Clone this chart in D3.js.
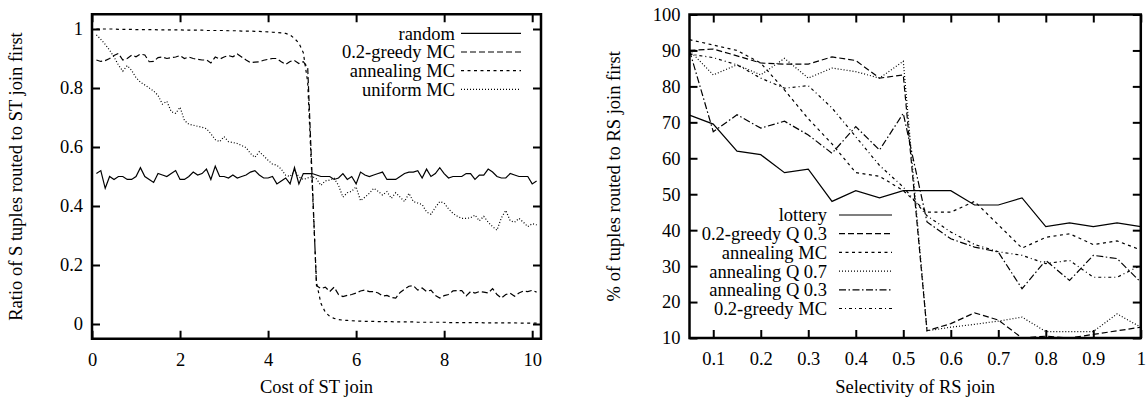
<!DOCTYPE html>
<html>
<head>
<meta charset="utf-8">
<script src="https://cdn.jsdelivr.net/npm/d3@7"></script>
<style>
  body { margin: 0; background: #fff; }
  text { font-family: "Liberation Serif", "Times New Roman", serif; font-size: 18.5px; fill: #000; }
</style>
</head>
<body>
<script>
//  Left panel: cost of ST join (0.1 .. 10.1)
var stCost = [
    0.1,0.2,0.3,0.4,0.5,0.6,0.7,0.8,0.9,1.0,
    1.1,1.2,1.3,1.4,1.5,1.6,1.7,1.8,1.9,2.0,
    2.1,2.2,2.3,2.4,2.5,2.6,2.7,2.8,2.9,3.0,
    3.1,3.2,3.3,3.4,3.5,3.6,3.7,3.8,3.9,4.0,
    4.1,4.2,4.3,4.4,4.5,4.6,4.7,4.8,4.9,5.0,
    5.1,5.2,5.3,5.4,5.5,5.6,5.7,5.8,5.9,6.0,
    6.1,6.2,6.3,6.4,6.5,6.6,6.7,6.8,6.9,7.0,
    7.1,7.2,7.3,7.4,7.5,7.6,7.7,7.8,7.9,8.0,
    8.1,8.2,8.3,8.4,8.5,8.6,8.7,8.8,8.9,9.0,
    9.1,9.2,9.3,9.4,9.5,9.6,9.7,9.8,9.9,10.0,
    10.1];

var randomRatio = [
    0.51,0.52,0.46,0.50,0.49,0.50,0.50,0.49,0.49,0.50,
    0.53,0.50,0.49,0.48,0.51,0.505,0.50,0.51,0.52,0.49,
    0.49,0.50,0.515,0.505,0.51,0.525,0.49,0.535,0.50,0.50,
    0.495,0.505,0.495,0.50,0.505,0.515,0.52,0.505,0.495,0.495,
    0.50,0.475,0.485,0.495,0.475,0.53,0.475,0.51,0.51,0.51,
    0.505,0.50,0.50,0.50,0.49,0.495,0.51,0.49,0.50,0.475,
    0.515,0.505,0.50,0.505,0.51,0.515,0.49,0.49,0.49,0.50,
    0.51,0.515,0.515,0.52,0.495,0.525,0.50,0.51,0.53,0.51,
    0.495,0.50,0.50,0.50,0.51,0.51,0.49,0.505,0.505,0.525,
    0.515,0.50,0.495,0.495,0.51,0.505,0.50,0.50,0.50,0.475,
    0.485];

var greedyMCRatio = [
    0.895,0.89,0.893,0.90,0.91,0.917,0.895,0.90,0.911,0.906,
    0.915,0.912,0.889,0.89,0.903,0.905,0.90,0.903,0.905,0.91,
    0.90,0.905,0.90,0.897,0.895,0.895,0.885,0.905,0.898,0.905,
    0.91,0.906,0.915,0.905,0.895,0.886,0.888,0.889,0.894,0.897,
    0.90,0.90,0.889,0.88,0.89,0.893,0.883,0.889,0.87,0.50,
    0.13,0.12,0.125,0.11,0.125,0.10,0.093,0.097,0.10,0.105,
    0.112,0.115,0.11,0.11,0.105,0.095,0.097,0.09,0.088,0.107,
    0.118,0.128,0.13,0.115,0.122,0.11,0.115,0.097,0.088,0.096,
    0.10,0.112,0.113,0.113,0.095,0.11,0.105,0.11,0.108,0.105,
    0.12,0.10,0.088,0.10,0.104,0.094,0.105,0.112,0.11,0.114,
    0.108];

var annealingMCRatio = [
    1.0,1.0,1.0,1.0,1.0,0.999,0.999,0.999,0.999,0.998,
    0.998,0.998,0.998,0.998,0.997,0.997,0.997,0.997,0.997,0.997,
    0.996,0.996,0.996,0.996,0.996,0.995,0.995,0.995,0.995,0.995,
    0.994,0.994,0.994,0.993,0.993,0.993,0.992,0.992,0.991,0.99,
    0.989,0.988,0.987,0.985,0.98,0.968,0.952,0.92,0.82,0.48,
    0.14,0.07,0.04,0.026,0.019,0.015,0.013,0.012,0.011,0.01,
    0.01,0.009,0.009,0.009,0.008,0.008,0.008,0.008,0.007,0.007,
    0.007,0.007,0.007,0.006,0.006,0.006,0.006,0.006,0.006,0.006,
    0.005,0.005,0.005,0.005,0.005,0.005,0.005,0.005,0.004,0.004,
    0.004,0.004,0.004,0.004,0.004,0.004,0.003,0.003,0.003,0.003,
    0.003];

var uniformMCRatio = [
    0.98,0.965,0.948,0.928,0.905,0.878,0.857,0.876,0.86,0.835,
    0.82,0.81,0.80,0.79,0.775,0.745,0.755,0.72,0.714,0.735,
    0.69,0.677,0.674,0.67,0.667,0.662,0.645,0.625,0.618,0.635,
    0.618,0.615,0.612,0.605,0.598,0.578,0.565,0.584,0.57,0.555,
    0.542,0.538,0.525,0.504,0.50,0.52,0.499,0.49,0.495,0.50,
    0.492,0.47,0.485,0.488,0.494,0.47,0.43,0.445,0.45,0.465,
    0.418,0.43,0.443,0.46,0.45,0.437,0.449,0.426,0.445,0.43,
    0.415,0.443,0.415,0.41,0.405,0.38,0.372,0.395,0.415,0.41,
    0.39,0.375,0.365,0.358,0.358,0.36,0.369,0.35,0.365,0.345,
    0.33,0.318,0.36,0.385,0.35,0.345,0.358,0.345,0.33,0.34,
    0.336];

//  Right panel: selectivity of RS join
var rsSel = [0.05,0.1,0.15,0.2,0.25,0.3,0.35,0.4,0.45,0.5,
             0.55,0.6,0.65,0.7,0.75,0.8,0.85,0.9,0.95,1.0];

var lotteryPct     = [72,69.5,62,61,56,57,48,51,49,51, 51,51,47,47,49,41,42,41,42,41];
var greedyQ03Pct   = [90,90.4,88.5,86.5,86.2,86.2,88.2,87.2,82.3,83.2, 12,14,17,15,10,10.5,10,11,12,13];
var annealingMCPct = [93,91.5,90,86.5,79,71,64,56,55,51, 45,45,48,41.5,35,38,39,36,37,34.5];
var annealingQ07Pct = [90,83.2,86,83.2,87.8,82.3,85.1,84.1,82.3,87, 12,13,13.8,14.7,15.8,11.8,11.8,11.8,16.7,13];
var annealingQ03Pct = [90,67.4,72.1,68.4,70.3,66.5,61.4,68.8,62.3,72.5, 42.3,37.6,35.3,33.9,23.7,31.6,26,33,32.1,25.5];
var greedyMCPct    = [89,88,86,82.3,79.5,80.2,74,66,58,52, 44,39.5,36,34,33,30.7,31.6,26.9,26.9,30.2];

//  Tick values
var stTicks = [0,2,4,6,8,10];
var ratioTicks = [0,0.2,0.4,0.6,0.8,1];
var selTicks = [0.1,0.2,0.3,0.4,0.5,0.6,0.7,0.8,0.9,1];
var pctTicks = [10,20,30,40,50,60,70,80,90,100];

//  Dash styles (gnuplot-like line types)
var dashes = {
    solid: null,
    dashed: "6,3",
    shortdash: "3,3.5",
    dotted: "1,2",
    dashdot: "7,2.5,1.5,2.5",
    dashdotshort: "3,3,1,3"
};

var w = 1147;
var h = 401;

var svg = d3.select("body")
    .append("svg")
    .attr("width", w)
    .attr("height", h);

function drawPanel(p) {
    var x = d3.scaleLinear().domain(p.xDomain).range(p.xRange);
    var y = d3.scaleLinear().domain(p.yDomain).range(p.yRange);
    var g = svg.append("g");

    //  clip lines to the frame
    g.append("clipPath")
        .attr("id", p.id)
        .append("rect")
        .attr("x", p.xRange[0])
        .attr("y", p.yRange[1])
        .attr("width", p.xRange[1] - p.xRange[0])
        .attr("height", p.yRange[0] - p.yRange[1]);

    var line = d3.line()
        .x(function(d) { return x(d[0]); })
        .y(function(d) { return y(d[1]); });

    var lines = g.append("g").attr("clip-path", "url(#" + p.id + ")");
    p.series.forEach(function(s) {
        lines.append("path")
            .datum(p.xs.map(function(v, i) { return [v, s.values[i]]; }))
            .attr("d", line)
            .attr("fill", "none")
            .attr("stroke", "#000")
            .attr("stroke-width", 1.2)
            .attr("stroke-dasharray", dashes[s.dash]);
    });

    //  inward ticks on all four sides
    var bottom = g.append("g")
        .attr("transform", "translate(0," + p.yRange[0] + ")")
        .call(d3.axisBottom(x).tickValues(p.xTicks).tickSizeInner(-8).tickSizeOuter(0)
            .tickPadding(14).tickFormat(p.xFormat));
    var top = g.append("g")
        .attr("transform", "translate(0," + p.yRange[1] + ")")
        .call(d3.axisTop(x).tickValues(p.xTicks).tickSizeInner(-8).tickSizeOuter(0).tickFormat(""));
    var left = g.append("g")
        .attr("transform", "translate(" + p.xRange[0] + ",0)")
        .call(d3.axisLeft(y).tickValues(p.yTicks).tickSizeInner(-8).tickSizeOuter(0)
            .tickPadding(9).tickFormat(p.yFormat));
    var right = g.append("g")
        .attr("transform", "translate(" + p.xRange[1] + ",0)")
        .call(d3.axisRight(y).tickValues(p.yTicks).tickSizeInner(-8).tickSizeOuter(0).tickFormat(""));

    [bottom, top, left, right].forEach(function(a) {
        a.select(".domain").remove();
        a.selectAll(".tick line").attr("stroke-width", 2);
    });

    //  frame
    g.append("rect")
        .attr("x", p.xRange[0])
        .attr("y", p.yRange[1])
        .attr("width", p.xRange[1] - p.xRange[0])
        .attr("height", p.yRange[0] - p.yRange[1])
        .attr("fill", "none")
        .attr("stroke", "#000")
        .attr("stroke-width", 2.5);

    //  legend
    p.series.forEach(function(s, i) {
        var ly = p.legend.y + i * 18.7;
        g.append("text")
            .attr("x", p.legend.textRight)
            .attr("y", ly)
            .attr("dy", "0.35em")
            .attr("text-anchor", "end")
            .text(s.name);
        g.append("line")
            .attr("x1", p.legend.x1)
            .attr("x2", p.legend.x2)
            .attr("y1", ly)
            .attr("y2", ly)
            .attr("stroke", "#000")
            .attr("stroke-width", 1.2)
            .attr("stroke-dasharray", dashes[s.dash]);
    });

    //  axis titles
    g.append("text")
        .attr("x", (p.xRange[0] + p.xRange[1]) / 2)
        .attr("y", 387)
        .attr("dy", "0.35em")
        .attr("text-anchor", "middle")
        .text(p.xTitle);

    g.append("text")
        .attr("transform", "translate(" + p.yTitleX + "," + ((p.yRange[0] + p.yRange[1]) / 2) + ") rotate(-90)")
        .attr("dy", "0.35em")
        .attr("text-anchor", "middle")
        .text(p.yTitle);
}

drawPanel({
    id: "clipST",
    xs: stCost,
    xDomain: [0, 10.2], xRange: [92, 541],
    yDomain: [-0.05, 1.05], yRange: [338.75, 14.25],
    xTicks: stTicks, yTicks: ratioTicks,
    xFormat: d3.format("d"),
    yFormat: function(d) { return String(d); },
    series: [
        { name: "random", values: randomRatio, dash: "solid" },
        { name: "0.2-greedy MC", values: greedyMCRatio, dash: "dashed" },
        { name: "annealing MC", values: annealingMCRatio, dash: "shortdash" },
        { name: "uniform MC", values: uniformMCRatio, dash: "dotted" }
    ],
    legend: { textRight: 455, x1: 461, x2: 521, y: 33.3 },
    xTitle: "Cost of ST join",
    yTitle: "Ratio of S tuples routed to ST join first",
    yTitleX: 16
});

drawPanel({
    id: "clipRS",
    xs: rsSel,
    xDomain: [0.05, 1.0], xRange: [689.5, 1140.8],
    yDomain: [10, 100], yRange: [338, 14.5],
    xTicks: selTicks, yTicks: pctTicks,
    xFormat: function(d) { return String(d); },
    yFormat: d3.format("d"),
    series: [
        { name: "lottery", values: lotteryPct, dash: "solid" },
        { name: "0.2-greedy Q 0.3", values: greedyQ03Pct, dash: "dashed" },
        { name: "annealing MC", values: annealingMCPct, dash: "shortdash" },
        { name: "annealing Q 0.7", values: annealingQ07Pct, dash: "dotted" },
        { name: "annealing Q 0.3", values: annealingQ03Pct, dash: "dashdot" },
        { name: "0.2-greedy MC", values: greedyMCPct, dash: "dashdotshort" }
    ],
    legend: { textRight: 827, x1: 839, x2: 892, y: 215 },
    xTitle: "Selectivity of RS join",
    yTitle: "% of tuples routed to RS join first",
    yTitleX: 614
});
</script>
</body>
</html>
